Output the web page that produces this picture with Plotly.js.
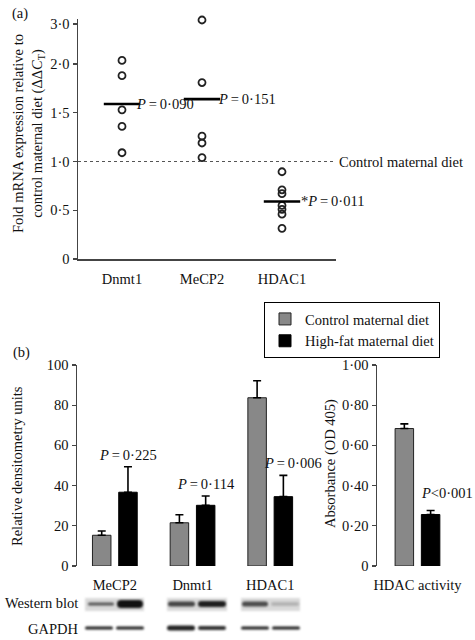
<!DOCTYPE html>
<html>
<head>
<meta charset="utf-8">
<script src="https://cdn.plot.ly/plotly-3.0.1.min.js"></script>
<style>html,body{margin:0;padding:0;background:#fff}#chart{width:475px;height:640px}</style>
</head>
<body>
<div id="chart"></div>
<script>
// ---------- DATA ----------
// Panel (a): fold mRNA expression (individual animals) and group means
const aGenes = ['Dnmt1', 'MeCP2', 'HDAC1'];
const aDnmt1 = [2.09, 1.88, 1.53, 1.36, 1.09];
const aMeCP2 = [3.1, 1.81, 1.26, 1.19, 1.04];
const aHDAC1 = [0.895, 0.71, 0.67, 0.55, 0.51, 0.46, 0.315];
const aMeans = [1.59, 1.64, 0.59];
const aPText = ['<i>P</i>\u2009=\u20090·090', '<i>P</i>\u2009=\u20090·151', '*<i>P</i>\u2009=\u20090·011'];
const aTickVals = [0, 0.5, 1.0, 1.5, 2.0];
const aTickText = ['0', '0·5', '1·0', '1·5', '2·0'];
const aUpperTickVals = [3.0];
const aUpperTickText = ['3·0'];
const aBreak = 2.0;

// Panel (b): western blot densitometry
const bGenes = ['MeCP2', 'Dnmt1', 'HDAC1'];
const bControl = [15.3, 21.5, 83.7];
const bControlErr = [2.1, 4.0, 8.5];
const bHighFat = [36.7, 30.2, 34.5];
const bHighFatErr = [12.7, 4.6, 10.6];
const bPText = ['<i>P</i>\u2009=\u20090·225', '<i>P</i>\u2009=\u20090·114', '<i>P</i>\u2009=\u20090·006'];
const bTickVals = [0, 20, 40, 60, 80, 100];

// Panel (b) right: HDAC activity
const cCategory = ['HDAC activity'];
const cControl = [0.684];
const cControlErr = [0.023];
const cHighFat = [0.256];
const cHighFatErr = [0.020];
const cPText = ['<i>P</i><0·001'];
const cTickVals = [0, 0.2, 0.4, 0.6, 0.8, 1.0];
const cTickText = ['0', '0·20', '0·40', '0·60', '0·80', '1·00'];

const seriesNames = ['Control maternal diet', 'High-fat maternal diet'];

// ---------- HELPERS ----------
const W = 475, H = 640;
const px = v => v / W;
const py = v => 1 - v / H;
const AX = '#444';
const FONT = "'Liberation Serif', 'Times New Roman', serif";
const FS = 14.5;

// ---------- PANEL (a) TRACES ----------
const aSeries = [aDnmt1, aMeCP2, aHDAC1];
const lowX = [], lowY = [], upX = [], upY = [];
aSeries.forEach((vals, i) => vals.forEach(v => {
  if (v > aBreak) { upX.push(aGenes[i]); upY.push(v); }
  else { lowX.push(aGenes[i]); lowY.push(v); }
}));
const circleMarker = {symbol: 'circle-open', size: 7, color: '#222', line: {width: 1.8, color: '#222'}};
const traces = [
  {type: 'scatter', mode: 'markers', x: lowX, y: lowY, xaxis: 'x', yaxis: 'y',
   marker: circleMarker, showlegend: false, cliponaxis: false, hoverinfo: 'skip'},
  {type: 'scatter', mode: 'markers', x: upX, y: upY, xaxis: 'x', yaxis: 'y3',
   marker: circleMarker, showlegend: false, cliponaxis: false, hoverinfo: 'skip'},
  {type: 'scatter', mode: 'markers', x: aGenes, y: aMeans, xaxis: 'x', yaxis: 'y',
   marker: {symbol: 'line-ew-open', size: 26, color: '#000', line: {width: 2.6, color: '#000'}},
   showlegend: false, cliponaxis: false, hoverinfo: 'skip'}
];

// ---------- PANEL (b) TRACES ----------
const zeros = a => a.map(() => 0);
const BW = 0.238;
const errStyle = {color: '#000', thickness: 1.6, width: 4};
traces.push(
  {type: 'bar', name: seriesNames[0], x: bGenes, y: bControl, xaxis: 'x2', yaxis: 'y2',
   width: BW, offset: -0.288, legendgroup: 'c',
   marker: {color: '#888', line: {color: '#222', width: 1}},
   error_y: Object.assign({type: 'data', symmetric: false, array: bControlErr, arrayminus: zeros(bControlErr)}, errStyle)},
  {type: 'bar', name: seriesNames[1], x: bGenes, y: bHighFat, xaxis: 'x2', yaxis: 'y2',
   width: BW, offset: 0.05, legendgroup: 'h',
   marker: {color: '#000', line: {color: '#000', width: 1}},
   error_y: Object.assign({type: 'data', symmetric: false, array: bHighFatErr, arrayminus: zeros(bHighFatErr)}, errStyle)},
  {type: 'bar', name: seriesNames[0], x: cCategory, y: cControl, xaxis: 'x4', yaxis: 'y4',
   width: BW, offset: -0.288, legendgroup: 'c', showlegend: false,
   marker: {color: '#888', line: {color: '#222', width: 1}},
   error_y: Object.assign({type: 'data', symmetric: false, array: cControlErr, arrayminus: zeros(cControlErr)}, errStyle)},
  {type: 'bar', name: seriesNames[1], x: cCategory, y: cHighFat, xaxis: 'x4', yaxis: 'y4',
   width: BW, offset: 0.05, legendgroup: 'h', showlegend: false,
   marker: {color: '#000', line: {color: '#000', width: 1}},
   error_y: Object.assign({type: 'data', symmetric: false, array: cHighFatErr, arrayminus: zeros(cHighFatErr)}, errStyle)}
);

// ---------- WESTERN BLOT IMAGE ----------
function blotImage() {
  const X0 = 75, Y0 = 592, CW = 240, CH = 45;
  const c = document.createElement('canvas');
  c.width = CW; c.height = CH;
  const g = c.getContext('2d');
  g.fillStyle = '#fff'; g.fillRect(0, 0, CW, CH);
  g.filter = 'blur(1px)';
  [[85, 144], [167, 227], [241, 300]].forEach(([a, b]) => {
    g.fillStyle = '#dadada';
    g.fillRect(a - X0, 598 - Y0, b - a, 13);
  });
  const bands = [
    [88, 114, 604, 3, '#555'], [117, 143, 604, 8, '#111'],
    [168, 195, 604, 5, '#444'], [198, 226, 604, 6, '#1e1e1e'],
    [242, 268, 604, 5, '#4a4a4a'], [271, 299, 604, 4, '#b4b4b4'],
    [85, 113, 628, 3, '#222'], [116, 144, 628, 3, '#222'],
    [167, 195, 628, 5, '#222'], [198, 226, 628, 4, '#333'],
    [241, 269, 628, 3, '#222'], [272, 300, 628, 3, '#222']
  ];
  bands.forEach(([a, b, yc, h, col]) => {
    g.fillStyle = col;
    g.beginPath();
    g.roundRect(a - X0, yc - Y0 - h / 2, b - a, h, h / 2);
    g.fill();
  });
  return {src: c.toDataURL(), x: px(X0), y: py(Y0), sx: CW / W, sy: CH / H};
}
const blot = blotImage();

// ---------- LAYOUT ----------
const yStyle = {showline: true, linecolor: AX, linewidth: 1.5, ticks: 'outside', ticklen: 4,
  tickwidth: 1.3, tickcolor: AX, showgrid: false, zeroline: false, tickfont: {size: FS, color: '#111'}};

const ann = (o) => Object.assign({showarrow: false, xanchor: 'center', yanchor: 'middle', font: {size: FS}}, o);
const annotations = [];
annotations.push(ann({xref: 'paper', yref: 'paper', x: px(10), y: py(14), text: '(a)', xanchor: 'left'}));
annotations.push(ann({xref: 'paper', yref: 'paper', x: px(11), y: py(352), text: '(b)', xanchor: 'left'}));
annotations.push(ann({xref: 'paper', yref: 'paper', x: px(28), y: py(134), textangle: -90,
  text: 'Fold mRNA expression relative to<br>control maternal diet (ΔΔ<i>C</i><sub>T</sub>)'}));
aGenes.forEach((g, i) => annotations.push(ann({xref: 'x', yref: 'y', x: g, y: aMeans[i], text: aPText[i],
  xanchor: 'left', xshift: [12, 14, 17][i]})));
annotations.push(ann({xref: 'x domain', yref: 'y', x: 1, y: 1.0, text: 'Control maternal diet', xanchor: 'left', xshift: 1}));
annotations.push(ann({xref: 'paper', yref: 'paper', x: px(17), y: py(466), textangle: -90, text: 'Relative densitometry units'}));
annotations.push(ann({xref: 'paper', yref: 'paper', x: px(330), y: py(464), textangle: -90, text: 'Absorbance (OD 405)'}));
const bShift = [13, 13, 23];
bGenes.forEach((g, i) => annotations.push(ann({xref: 'x2', yref: 'y2', x: g, y: bHighFat[i] + bHighFatErr[i],
  text: bPText[i], yanchor: 'bottom', xshift: bShift[i], yshift: 2})));
annotations.push(ann({xref: 'x4', yref: 'y4', x: cCategory[0], y: cHighFat[0] + cHighFatErr[0], text: cPText[0],
  yanchor: 'bottom', xshift: 30, yshift: 8}));
annotations.push(ann({xref: 'paper', yref: 'paper', x: px(80), y: py(603), text: 'Western blot', xanchor: 'right'}));
annotations.push(ann({xref: 'paper', yref: 'paper', x: px(80), y: py(629), text: 'GAPDH', xanchor: 'right'}));

const layout = {
  width: W, height: H, margin: {l: 0, r: 0, t: 0, b: 0},
  paper_bgcolor: '#fff', plot_bgcolor: 'rgba(0,0,0,0)',
  font: {family: FONT, size: FS, color: '#111'},
  barmode: 'overlay',
  showlegend: true,
  legend: {x: px(264), y: py(302), xanchor: 'left', yanchor: 'top', bordercolor: '#000', borderwidth: 1,
    bgcolor: '#fff', font: {size: FS}, tracegroupgap: 0, itemwidth: 30, traceorder: 'normal'},
  // panel (a)
  xaxis: {domain: [px(78), px(336)], anchor: 'y', range: [-0.55, 2.675], type: 'category',
    showline: true, linecolor: AX, linewidth: 1.5, ticks: '', showgrid: false, zeroline: false,
    tickfont: {size: FS, color: '#111'}, ticklabelstandoff: 6},
  yaxis: Object.assign({}, yStyle, {domain: [py(259), py(64)], anchor: 'x', range: [0, aBreak],
    tickmode: 'array', tickvals: aTickVals, ticktext: aTickText}),
  yaxis3: Object.assign({}, yStyle, {domain: [py(64), py(19.2)], anchor: 'x', range: [aBreak, 3.12],
    tickmode: 'array', tickvals: aUpperTickVals, ticktext: aUpperTickText}),
  // panel (b) left
  xaxis2: {domain: [px(77), px(300)], anchor: 'y2', range: [-0.487, 2.383], type: 'category',
    showline: false, ticks: '', showgrid: false, zeroline: false, tickfont: {size: FS, color: '#111'}, ticklabelstandoff: 8},
  yaxis2: Object.assign({}, yStyle, {domain: [py(566), py(365)], anchor: 'x2', range: [0, 100],
    tickmode: 'array', tickvals: bTickVals}),
  // panel (b) right
  xaxis4: {domain: [px(377), px(470)], anchor: 'y4', range: [-0.521, 0.676], type: 'category',
    showline: false, ticks: '', showgrid: false, zeroline: false, tickfont: {size: FS, color: '#111'}, ticklabelstandoff: 8},
  yaxis4: Object.assign({}, yStyle, {domain: [py(566), py(365)], anchor: 'x4', range: [0, 1.0],
    tickmode: 'array', tickvals: cTickVals, ticktext: cTickText}),
  shapes: [
    {type: 'line', xref: 'x domain', yref: 'y', x0: 0, x1: 1, y0: 1.0, y1: 1.0,
     line: {dash: 'dot', color: '#555', width: 1}}
  ],
  annotations: annotations,
  images: [{source: blot.src, xref: 'paper', yref: 'paper', x: blot.x, y: blot.y, sizex: blot.sx, sizey: blot.sy,
    sizing: 'stretch', xanchor: 'left', yanchor: 'top', layer: 'above'}]
};

Plotly.newPlot('chart', traces, layout, {staticPlot: true, displayModeBar: false});
</script>
</body>
</html>
